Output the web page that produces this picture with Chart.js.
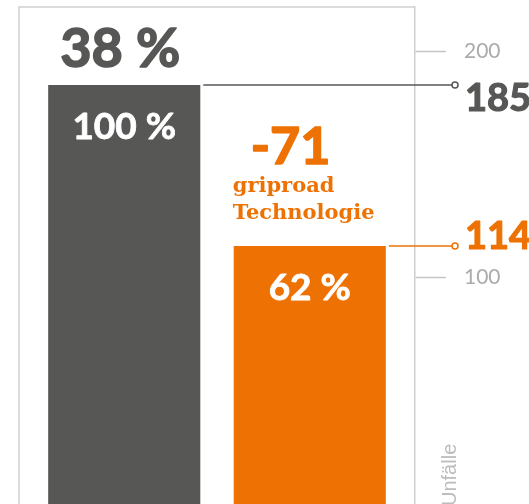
<!DOCTYPE html>
<html>
<head>
<meta charset="utf-8">
<script src="https://cdn.jsdelivr.net/npm/chart.js@4/dist/chart.umd.min.js"></script>
<style>
  html, body { margin: 0; padding: 0; background: #fff; }
  #wrap { width: 529px; height: 504px; position: relative; }
</style>
</head>
<body>
<div id="wrap"><canvas id="chart"></canvas></div>
<script>
// Unfälle vorher / mit griproad Technologie
const categories = ['Unfälle'];
const seriesNames = ['ohne griproad', 'griproad Technologie'];
const seriesValues = [185, 114];
const seriesColors = ['#575756', '#ee7203'];
const insideLabels = ['100 %', '62 %'];
const yTicks = [100, 200];
const topLabel = '38 %';
const deltaLabel = '-71';
const deltaCaption = ['griproad', 'Technologie'];

const datasets = seriesNames.map((name, i) => ({
  label: name,
  data: [seriesValues[i]],
  backgroundColor: seriesColors[i],
  borderWidth: 0,
  categoryPercentage: 0.937,
  barPercentage: 0.82
}));

// heavy text: fill plus a thin stroke of the same colour
function heavyText(ctx, text, x, y, color, weight) {
  ctx.fillStyle = color;
  ctx.strokeStyle = color;
  ctx.lineWidth = weight;
  ctx.lineJoin = 'round';
  ctx.fillText(text, x, y);
  ctx.strokeText(text, x, y);
}

// Frame, connectors and all labels
const annotate = {
  id: 'annotate',
  afterDatasetsDraw(chart) {
    const { ctx, chartArea } = chart;
    const bars = chart.data.datasets.map((d, i) => chart.getDatasetMeta(i).data[0]);

    ctx.save();
    // frame top + left
    ctx.strokeStyle = '#d0d0d0';
    ctx.lineWidth = 1.5;
    ctx.beginPath();
    ctx.moveTo(chartArea.left, chartArea.bottom + 2);
    ctx.lineTo(chartArea.left, chartArea.top);
    ctx.lineTo(chartArea.right, chartArea.top);
    ctx.stroke();

    // connectors to value labels
    const dotX = chartArea.right + 40;
    bars.forEach((bar, i) => {
      const right = bar.x + bar.width / 2;
      ctx.strokeStyle = seriesColors[i];
      ctx.lineWidth = 1.5;
      ctx.beginPath();
      ctx.moveTo(right + 3, bar.y);
      ctx.lineTo(dotX - 3, bar.y);
      ctx.stroke();
      ctx.beginPath();
      ctx.arc(dotX, bar.y, 3, 0, Math.PI * 2);
      ctx.fillStyle = '#fff';
      ctx.fill();
      ctx.stroke();

      ctx.font = 'bold 38px Lato';
      ctx.textAlign = 'left';
      ctx.textBaseline = 'alphabetic';
      heavyText(ctx, String(seriesValues[i]), chartArea.right + 50, i === 0 ? bar.y + 26 : bar.y + 3, seriesColors[i], 1.2);

      // percent inside bar
      ctx.font = 'bold 37px Lato';
      ctx.textAlign = 'center';
      heavyText(ctx, insideLabels[i], bar.x, bar.y + 54, '#fff', 0.8);
    });

    // headline over first bar
    const b0 = bars[0], b1 = bars[1];
    ctx.font = 'bold 54px Lato';
    ctx.textAlign = 'center';
    heavyText(ctx, topLabel, b0.x - 4, b0.y - 18, seriesColors[0], 1.6);

    // delta over second bar
    const left1 = b1.x - b1.width / 2;
    ctx.textAlign = 'left';
    ctx.font = 'bold 52px Lato';
    heavyText(ctx, deltaLabel, left1 + 17, b1.y - 82, seriesColors[1], 1.6);
    ctx.font = 'bold 21px "DejaVu Serif"';
    ctx.fillStyle = seriesColors[1];
    ctx.fillText(deltaCaption[0], left1 - 1, b1.y - 54);
    ctx.fillText(deltaCaption[1], left1 - 1, b1.y - 27);

    // axis title, rotated
    ctx.translate(chartArea.right + 41, chartArea.bottom + 2);
    ctx.rotate(-Math.PI / 2);
    ctx.fillStyle = '#bdbdbd';
    ctx.font = '20px "Liberation Sans"';
    ctx.textAlign = 'left';
    ctx.fillText('Unfälle', 0, 0);
    ctx.restore();
  }
};

new Chart(document.getElementById('chart'), {
  type: 'bar',
  data: { labels: categories, datasets: datasets },
  plugins: [annotate],
  options: {
    responsive: true,
    maintainAspectRatio: false,
    animation: false,
    layout: { padding: { left: 19, top: 7, right: 0, bottom: 0 } },
    plugins: {
      legend: { display: false },
      tooltip: { enabled: false }
    },
    scales: {
      x: { display: false },
      y: {
        position: 'right',
        min: 0,
        max: 219.5,
        afterBuildTicks: (scale) => { scale.ticks = yTicks.map(v => ({ value: v })); },
        afterFit: (scale) => {
          scale.width = 114;
          scale.paddingTop = 0;
          scale.paddingBottom = 0;
        },
        grid: { drawOnChartArea: false, tickLength: 31, tickColor: '#c4c4c4', tickWidth: 1.5 },
        border: { color: '#cfcfcf', width: 1.5 },
        ticks: { padding: 18, color: '#ababab', font: { family: 'Lato', size: 21 } }
      }
    }
  }
});
</script>
</body>
</html>
